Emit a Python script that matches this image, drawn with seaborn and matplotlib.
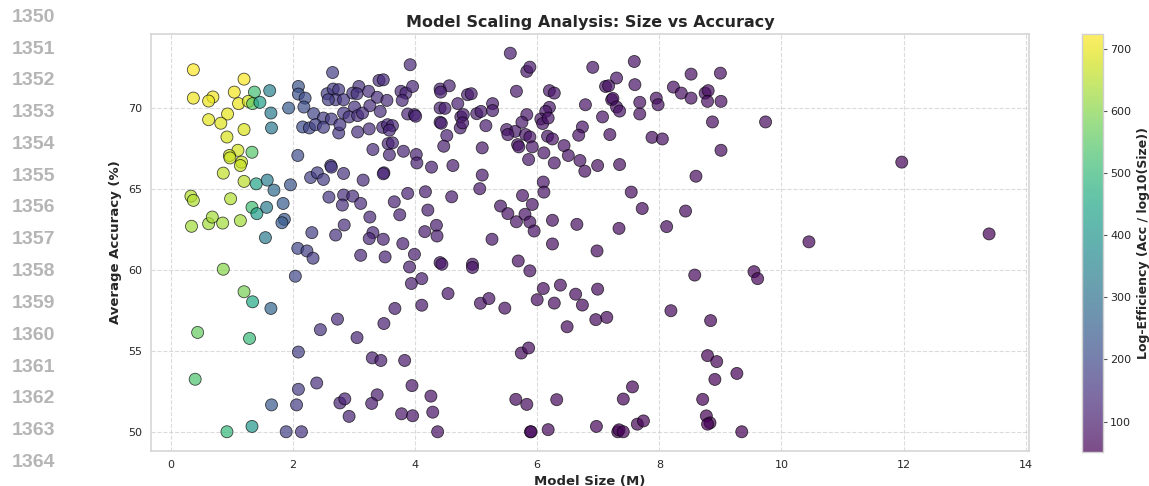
import numpy as np
import pandas as pd
import matplotlib
matplotlib.use("Agg")
import matplotlib.pyplot as plt
import seaborn as sns
from matplotlib.colors import Normalize
from matplotlib.cm import ScalarMappable

# Model size (millions of parameters) and average accuracy (%) per model
size_m = [
    0.37, 1.20, 0.37, 0.69, 0.62, 1.04, 1.37, 1.62, 1.11, 1.27, 1.34, 1.46, 1.64, 0.93, 0.62, 0.82,
    1.20, 1.65, 0.92, 1.93, 2.09, 2.09, 2.20, 2.18, 2.34, 2.50, 2.16, 2.27, 2.37, 2.50, 2.63, 2.75,
    2.77, 2.65, 2.56, 2.66, 2.75, 2.70, 2.58, 2.83, 2.83,
    1.10, 0.96, 0.97, 1.16, 1.14, 1.33, 0.86, 1.20, 1.40, 1.58, 1.69, 1.96, 2.08, 2.29, 2.40, 2.50,
    2.62, 2.63, 2.83, 0.33, 0.37, 0.98, 1.33, 1.41, 1.57, 1.84, 1.86, 1.82, 2.59, 2.83, 2.81, 0.34,
    0.62, 0.68, 0.85, 1.14, 1.55, 2.31, 2.70, 2.84,
    2.08, 2.23, 2.33, 0.86, 2.04, 1.20, 1.34, 1.64, 2.73, 2.45, 0.44, 1.29, 2.09, 0.40, 2.09, 2.39,
    1.65, 2.06, 2.77, 2.85, 2.92, 0.92, 1.33, 1.89, 2.14,
    3.92, 5.56, 5.83, 5.88, 3.41, 3.48, 3.08, 2.98, 3.05, 3.24, 3.38, 3.54, 3.77, 3.85, 3.96, 3.79,
    4.41, 4.56, 4.42, 4.86, 4.92, 4.70, 5.66, 5.27,
    3.01, 2.92, 3.06, 3.14, 3.26, 3.43, 3.88, 3.99, 4.01, 4.41, 4.49, 4.75, 4.79, 5.01, 5.08, 5.27, 5.83,
    3.06, 3.25, 3.47, 3.55, 3.63, 3.58, 4.41, 4.43, 4.74, 4.78, 5.16, 4.52, 5.50, 5.64, 5.52, 5.75,
    5.81, 5.88,
    3.56, 3.63, 3.31, 3.58, 3.81, 4.02, 4.03, 4.27, 4.47, 4.62, 5.10, 5.68, 5.70, 5.86, 5.92,
    3.15, 3.49, 3.48, 5.10, 5.06, 2.98, 3.11, 3.88, 4.17, 4.60, 3.66, 5.40, 5.76, 5.92,
    3.75, 4.21, 3.26, 3.31, 3.25, 3.48, 3.80, 4.16, 4.35, 4.36, 5.26, 5.52, 5.66, 5.80, 5.88, 5.95,
    3.11, 3.51, 3.99, 3.91, 4.41, 4.44, 4.94, 4.94, 5.69, 5.88, 3.94, 4.11, 4.54, 5.07, 5.21, 5.47,
    6.00, 3.67, 4.11, 3.49, 3.05, 3.30, 3.44, 3.83, 5.74, 5.86, 3.95, 3.38, 3.29, 4.26, 4.29, 3.78,
    3.96, 4.37, 5.65, 5.83, 5.89, 5.90,
    6.91, 7.59, 7.30, 7.12, 7.17, 7.60, 7.22, 7.24, 7.30, 7.35, 6.20, 6.28, 6.79, 6.20, 6.14, 6.06,
    6.09, 6.18, 6.17, 6.25, 6.11, 6.44, 6.51, 6.74, 6.68, 7.07, 7.19, 6.28, 6.70, 6.78, 6.99, 7.35,
    7.68, 7.68, 7.95, 7.98, 7.88, 8.05, 8.23, 8.36, 8.52, 8.52, 8.75, 8.80, 8.79, 9.00, 9.01, 8.87,
    9.01, 8.60, 6.10, 6.11, 7.54, 7.72, 8.43, 6.25, 6.65, 7.34, 8.12,
    9.74, 11.97,
    6.25, 6.98, 10.45, 13.40, 9.55, 9.61, 8.58, 6.38, 6.63, 6.99, 6.10, 6.28, 6.74, 8.19, 8.84, 6.96,
    7.14, 6.49, 8.79, 8.94, 9.27, 8.91, 7.56, 6.32, 7.41, 8.71, 8.77, 8.83, 8.79, 7.64, 7.74, 6.97,
    7.32, 7.34, 7.41, 9.35, 6.18,
]

accuracy = [
    72.34, 71.76, 70.59, 70.66, 70.41, 70.96, 70.96, 71.05, 70.25, 70.39, 70.25, 70.33, 69.67, 69.61, 69.26, 69.04,
    68.65, 68.75, 68.19, 69.98, 71.31, 70.84, 70.59, 70.04, 69.63, 69.36, 68.81, 68.75, 68.95, 68.79, 69.30, 68.44,
    68.95, 72.17, 70.86, 71.15, 71.11, 70.49, 70.49, 70.49, 69.67,
    67.37, 67.05, 66.90, 66.64, 66.43, 67.25, 65.96, 65.45, 65.30, 65.53, 64.91, 65.24, 67.05, 65.69, 65.98, 65.57,
    66.43, 66.33, 65.94, 64.54, 64.28, 64.38, 63.85, 63.46, 63.85, 64.09, 63.11, 62.90, 64.48, 64.61, 63.99, 62.68,
    62.84, 63.25, 62.88, 63.03, 61.98, 62.29, 62.14, 62.76,
    61.32, 61.16, 60.71, 60.03, 59.60, 58.64, 58.02, 57.61, 56.95, 56.30, 56.13, 55.76, 54.92, 53.24, 52.62, 53.01,
    51.66, 51.66, 51.78, 52.03, 50.95, 50.00, 50.33, 50.00, 50.00,
    72.65, 73.36, 72.24, 72.50, 71.68, 71.72, 71.31, 70.90, 70.86, 71.01, 70.64, 70.45, 71.01, 70.90, 71.31, 70.45,
    71.15, 71.35, 70.96, 70.80, 70.86, 70.25, 71.01, 70.25,
    70.04, 69.43, 69.51, 69.67, 70.12, 69.77, 69.61, 69.57, 69.47, 69.98, 69.96, 69.43, 69.57, 69.63, 69.77, 69.82, 69.57,
    68.50, 68.69, 68.79, 68.95, 68.89, 68.61, 69.10, 69.04, 68.75, 69.06, 68.89, 68.28, 68.65, 68.54, 68.34, 69.10,
    68.34, 68.19,
    67.78, 67.83, 67.42, 67.09, 67.31, 67.11, 66.59, 66.33, 67.62, 66.43, 67.52, 67.72, 67.58, 66.80, 67.58,
    65.53, 65.98, 65.92, 65.84, 65.00, 64.54, 64.09, 64.71, 64.81, 64.50, 64.19, 63.93, 64.58, 64.03,
    63.39, 63.68, 63.25, 62.29, 61.92, 61.88, 61.61, 62.35, 62.74, 62.08, 61.88, 63.46, 62.96, 63.42, 62.94, 62.39,
    60.89, 60.79, 60.95, 60.17, 60.44, 60.34, 60.34, 60.14, 60.54, 59.93, 59.15, 59.45, 58.53, 57.93, 58.22, 57.63,
    58.15, 57.61, 57.81, 56.68, 55.81, 54.56, 54.40, 54.40, 54.86, 55.17, 52.85, 52.28, 51.75, 52.20, 51.21, 51.11,
    50.99, 50.00, 52.00, 51.69, 50.00, 50.00,
    72.49, 72.85, 71.83, 71.31, 71.35, 71.42, 70.49, 70.57, 70.04, 69.79, 71.05, 70.90, 70.18, 70.02, 69.77, 69.30,
    69.02, 69.36, 68.24, 68.07, 67.21, 67.66, 67.05, 68.81, 68.30, 69.43, 68.34, 66.59, 66.74, 66.08, 66.43, 66.49,
    70.33, 69.61, 70.59, 70.18, 68.17, 68.07, 71.27, 70.90, 72.07, 70.59, 70.90, 71.05, 70.39, 72.13, 70.39, 69.12,
    67.37, 65.77, 65.41, 64.79, 64.79, 63.78, 63.62, 63.05, 62.80, 62.55, 62.66,
    69.12, 66.64,
    61.59, 61.16, 61.72, 62.21, 59.88, 59.45, 59.67, 59.05, 58.49, 58.80, 58.84, 57.94, 57.82, 57.47, 56.86, 56.92,
    57.06, 56.48, 54.70, 54.33, 53.60, 53.23, 52.77, 51.98, 52.02, 52.00, 50.98, 50.55, 50.47, 50.47, 50.67, 50.33,
    50.00, 50.12, 50.00, 50.00, 50.13,
]

x_ticks = [0, 2, 4, 6, 8, 10, 12, 14]
y_ticks = [50, 55, 60, 65, 70]
gutter_numbers = list(range(1350, 1366))

df = pd.DataFrame({"size": size_m, "acc": accuracy})
# efficiency colour scale: accuracy over log10 of size (denominator floored at 0.1)
df["eff"] = df["acc"] / np.maximum(np.log10(df["size"]), 0.1)

sns.set_theme(style="whitegrid")
plt.rcParams["font.family"] = ["DejaVu Sans"]

W, H = 1149, 486
fig = plt.figure(figsize=(W / 100, H / 100), dpi=100)
ax = fig.add_axes([151 / W, 1 - 450.7 / H, 878 / W, 416.4 / H])
cax = fig.add_axes([1082.3 / W, 1 - 451.7 / H, 21 / W, 417.7 / H])

norm = Normalize(vmin=df["eff"].min(), vmax=df["eff"].max())
sns.scatterplot(
    data=df, x="size", y="acc", hue="eff", palette="viridis", hue_norm=norm,
    s=75, alpha=0.7, edgecolor="black", linewidth=0.6, legend=False, ax=ax,
)

ax.set_xticks(x_ticks)
ax.set_yticks(y_ticks)
ax.tick_params(axis="both", length=0, pad=6.5, labelsize=8, labelcolor="#262626")
ax.grid(True, linestyle="--", linewidth=0.8, color="#cccccc", alpha=0.7)
for sp in ax.spines.values():
    sp.set_color("#d5d5d5")
    sp.set_linewidth(1.2)

ax.set_title("Model Scaling Analysis: Size vs Accuracy", fontsize=11.5, fontweight="bold",
             color="#262626", pad=5)
ax.set_xlabel("Model Size (M)", fontsize=9.5, fontweight="bold", color="#262626", labelpad=4)
ax.set_ylabel("Average Accuracy (%)", fontsize=9.5, fontweight="bold", color="#262626", labelpad=4)

sm = ScalarMappable(norm=norm, cmap="viridis")
sm.set_array([])
cbar = fig.colorbar(sm, cax=cax, alpha=0.7)
cbar.outline.set_edgecolor("#d0d0d0")
cbar.outline.set_linewidth(1.0)
cax.tick_params(axis="y", right=True, length=3, width=0.8, color="#555555", pad=2,
                labelsize=8, labelcolor="#262626")
cax.grid(False)
cbar.set_label("Log-Efficiency (Acc / log10(Size))", fontsize=9, fontweight="bold",
               color="#262626", labelpad=4)

# line-number gutter along the left edge
for i, num in enumerate(gutter_numbers):
    yc = 15 + 31.8 * i
    fig.text(55 / W, 1 - (yc + 6.7) / H, str(num), ha="right", va="baseline",
             fontsize=14, fontweight="bold", color="#b5b5b5", family="Liberation Sans")

fig.savefig("out.png", dpi=100)
